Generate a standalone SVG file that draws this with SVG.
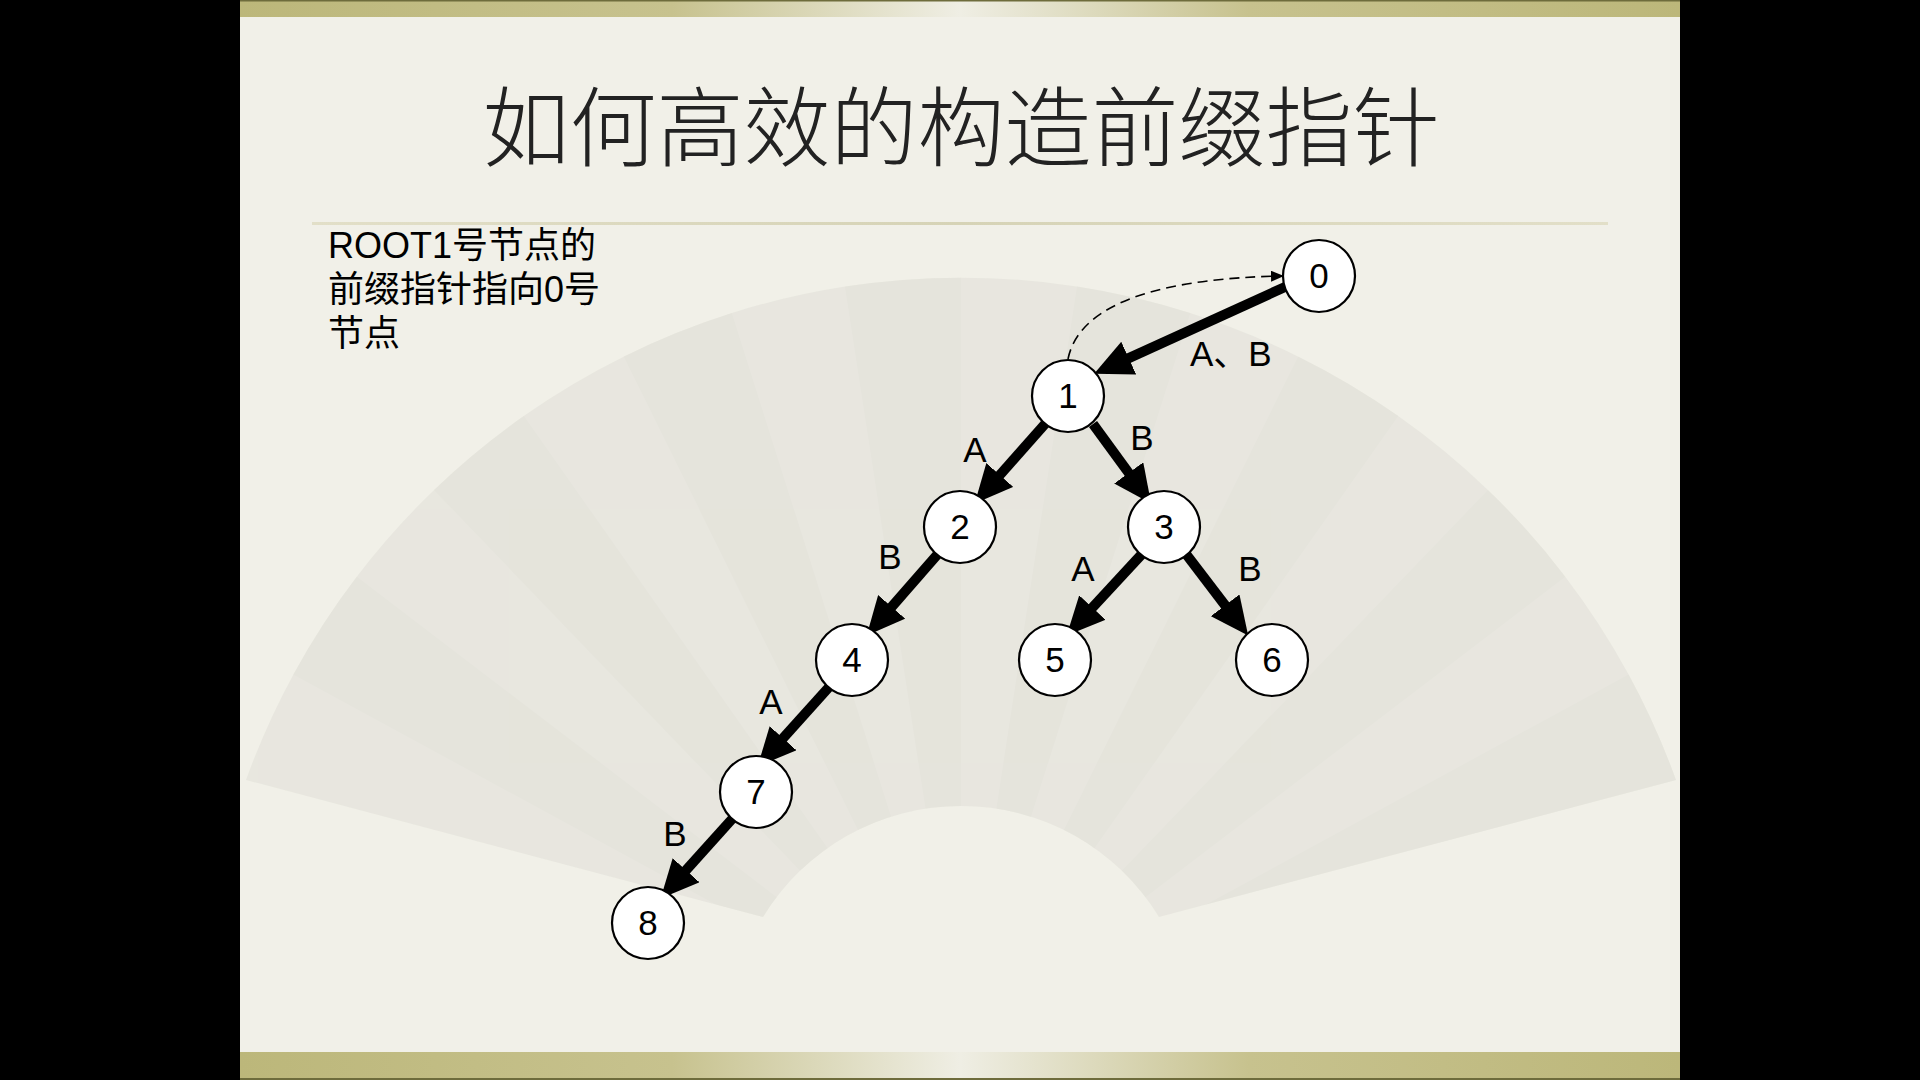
<svg xmlns="http://www.w3.org/2000/svg" width="1920" height="1080" viewBox="0 0 1920 1080">
<defs>
<style>
.node circle{fill:#ffffff;stroke:#000000;stroke-width:2.2}
.node text{font-family:"Liberation Sans",Arial,sans-serif;font-size:35px;fill:#000;text-anchor:middle}
.edge{stroke:#000;stroke-width:10;fill:none;marker-end:url(#head)}
.lbl{font-family:"Liberation Sans","Noto Sans CJK SC",sans-serif;font-size:35px;fill:#000}
.body{font-family:"Liberation Sans","Noto Sans CJK SC",sans-serif;font-size:36px;fill:#000}
.panel{fill:#e1e0d7}
</style>
<linearGradient id="bar" x1="240" y1="0" x2="1680" y2="0" gradientUnits="userSpaceOnUse">
<stop offset="0" stop-color="#bcb77a"/>
<stop offset="0.3" stop-color="#c7c28e"/>
<stop offset="0.5" stop-color="#efeee4"/>
<stop offset="0.7" stop-color="#c7c28e"/>
<stop offset="1" stop-color="#bcb77a"/>
</linearGradient>
<linearGradient id="sep" x1="312" y1="0" x2="1608" y2="0" gradientUnits="userSpaceOnUse">
<stop offset="0" stop-color="#e2dfc8"/>
<stop offset="0.5" stop-color="#d6d3b6"/>
<stop offset="1" stop-color="#e2dfc8"/>
</linearGradient>
<marker id="head" markerUnits="userSpaceOnUse" markerWidth="38" markerHeight="36" refX="12" refY="18" orient="auto">
<path d="M0,0 L38,18 L0,36 Z" fill="#000"/>
</marker>
<marker id="small" markerUnits="userSpaceOnUse" markerWidth="13" markerHeight="11" refX="11" refY="5.5" orient="auto">
<path d="M0,0 L13,5.5 L0,11 Z" fill="#000"/>
</marker>
<clipPath id="fanclip">
<path d="M246,780 A760,760 0 0,1 1676,780 L1159,917 A232,232 0 0,0 763,917 Z"/>
</clipPath>
</defs>

<rect x="0" y="0" width="1920" height="1080" fill="#000"/>
<rect x="240" y="0" width="1440" height="1080" fill="#f1f0e8"/>

<g id="fan">
<path d="M246,780 A760,760 0 0,1 1676,780 L1159,917 A232,232 0 0,0 763,917 Z" fill="#e8e7df"/>
<g clip-path="url(#fanclip)" opacity="0.4">
<polygon class="panel" points="961,1038 258.4,655.4 325.1,552.6"/>
<polygon class="panel" points="961,1038 406.5,461.4 501.0,383.5"/>
<polygon class="panel" points="961,1038 606.2,321.0 719.8,275.2"/>
<polygon class="panel" points="961,1038 838.9,247.4 961,238"/>
<polygon class="panel" points="961,1038 1083.1,247.4 1202.2,275.2"/>
<polygon class="panel" points="961,1038 1315.8,321.0 1421.0,383.5"/>
<polygon class="panel" points="961,1038 1515.5,461.4 1596.9,552.6"/>
<polygon class="panel" points="961,1038 1663.6,655.4 1713.7,767.0"/>
</g>
</g>

<rect x="240" y="0" width="1440" height="17" fill="url(#bar)"/>
<rect x="240" y="0" width="1440" height="1.5" fill="#6e6c3c"/>
<rect x="240" y="1052" width="1440" height="28" fill="url(#bar)"/>
<rect x="240" y="1078" width="1440" height="2" fill="#6e6c3c"/>

<text x="961" y="160" font-family="'Noto Sans CJK SC','Noto Sans CJK JP',sans-serif" font-size="87" font-weight="300" fill="#222" text-anchor="middle">如何高效的构造前缀指针</text>
<rect x="312" y="222" width="1296" height="3" fill="url(#sep)"/>

<g id="note">
<text class="body" x="328" y="258">ROOT1号节点的</text>
<text class="body" x="328" y="302">前缀指针指向0号</text>
<text class="body" x="328" y="346">节点</text>
</g>

<g id="connectors">
<path d="M1068,359 C1080,300 1170,278 1282,276" fill="none" stroke="#000" stroke-width="1.6" stroke-dasharray="10,6" marker-end="url(#small)"/>
<line class="edge" x1="1285" y1="287" x2="1117.8" y2="363.1"/>
<line class="edge" x1="1045" y1="424" x2="991.9" y2="484"/>
<line class="edge" x1="1093" y1="424" x2="1135.8" y2="482.6"/>
<line class="edge" x1="937" y1="555" x2="883.8" y2="615.9"/>
<line class="edge" x1="1142" y1="554" x2="1084.3" y2="616.4"/>
<line class="edge" x1="1186" y1="554" x2="1232.4" y2="614.9"/>
<line class="edge" x1="830" y1="686" x2="775" y2="747.1"/>
<line class="edge" x1="733" y1="818" x2="678" y2="879.1"/>
<text class="lbl" x="1190" y="366">A、B</text>
<text class="lbl" x="975" y="462" text-anchor="middle">A</text>
<text class="lbl" x="1142" y="450" text-anchor="middle">B</text>
<text class="lbl" x="890" y="569" text-anchor="middle">B</text>
<text class="lbl" x="1083" y="581" text-anchor="middle">A</text>
<text class="lbl" x="1250" y="581" text-anchor="middle">B</text>
<text class="lbl" x="771" y="714" text-anchor="middle">A</text>
<text class="lbl" x="675" y="846" text-anchor="middle">B</text>
</g>

<g id="node0" class="node"><circle cx="1319" cy="276" r="36"/><text x="1319" y="288">0</text></g>
<g id="node1" class="node"><circle cx="1068" cy="396" r="36"/><text x="1068" y="408">1</text></g>
<g id="node2" class="node"><circle cx="960" cy="527" r="36"/><text x="960" y="539">2</text></g>
<g id="node3" class="node"><circle cx="1164" cy="527" r="36"/><text x="1164" y="539">3</text></g>
<g id="node4" class="node"><circle cx="852" cy="660" r="36"/><text x="852" y="672">4</text></g>
<g id="node5" class="node"><circle cx="1055" cy="660" r="36"/><text x="1055" y="672">5</text></g>
<g id="node6" class="node"><circle cx="1272" cy="660" r="36"/><text x="1272" y="672">6</text></g>
<g id="node7" class="node"><circle cx="756" cy="792" r="36"/><text x="756" y="804">7</text></g>
<g id="node8" class="node"><circle cx="648" cy="923" r="36"/><text x="648" y="935">8</text></g>
</svg>
